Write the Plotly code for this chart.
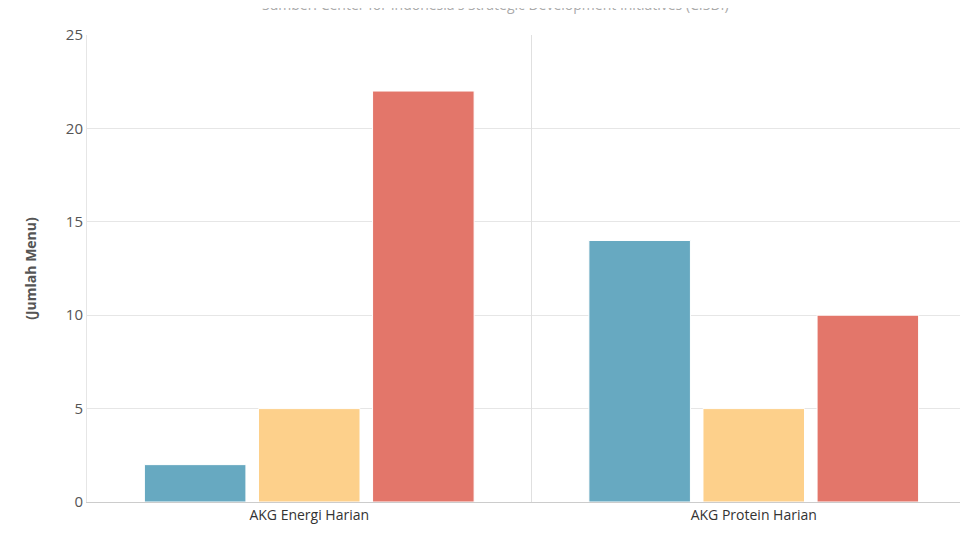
import plotly.graph_objects as go

categories = ["AKG Energi Harian", "AKG Protein Harian"]
series_names = ["Kurang", "Sesuai", "Berlebih"]
series_values = [[2, 14], [5, 5], [22, 10]]
colors = ["#67a9c1", "#fdd08b", "#e3766a"]

fig = go.Figure()
for name, vals, c in zip(series_names, series_values, colors):
    fig.add_trace(go.Bar(x=categories, y=vals, name=name, marker_color=c,
                         marker_line_color="#ffffff", marker_line_width=1))

fig.update_layout(
    width=968, height=543,
    margin=dict(l=79, r=0, t=27, b=49),
    plot_bgcolor="white", paper_bgcolor="white",
    font=dict(family="Open Sans, sans-serif", size=14, color="#555555"),
    barmode="group", bargap=0.23, bargroupgap=0.11,
    showlegend=False,
    annotations=[dict(text="Sumber: Center for Indonesia's Strategic Development Initiatives (CISDI)",
                      xref="paper", yref="paper", x=0.46, y=1, yshift=31, yanchor="middle",
                      showarrow=False, font=dict(size=14, color="#aaaaaa"))],
)
fig.update_xaxes(showgrid=False, showline=True, linecolor="#cccccc", ticks="",
                 tickfont=dict(color="#333333", size=14))
fig.add_vline(x=0.5, line_color="#e0e0e0", line_width=1)
fig.update_yaxes(range=[0, 25], dtick=5, gridcolor="#e6e6e6", zeroline=False,
                 showline=True, linecolor="#e6e6e6",
                 title=dict(text="<b>(Jumlah Menu)</b>", font=dict(size=14, color="#555555"), standoff=25),
                 tickfont=dict(color="#555555", size=15))
fig.write_html("out.html")
